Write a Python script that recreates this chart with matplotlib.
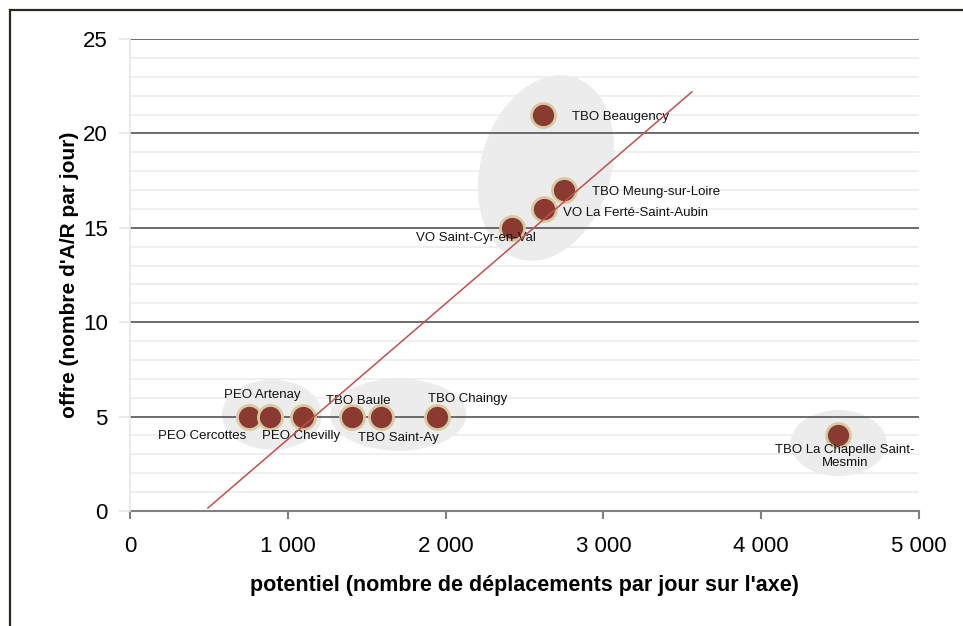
import matplotlib
matplotlib.use("Agg")
import matplotlib.pyplot as plt
from matplotlib.patches import Ellipse
from matplotlib.lines import Line2D
from matplotlib.transforms import ScaledTranslation
from matplotlib.ticker import FuncFormatter, MultipleLocator

plt.rcParams['font.family'] = ['Liberation Sans', 'DejaVu Sans']

# stations: potentiel (depl./jour), offre (A/R par jour)
names = ["PEO Cercottes", "PEO Artenay", "PEO Chevilly", "TBO Baule", "TBO Saint-Ay",
         "TBO Chaingy", "VO Saint-Cyr-en-Val", "VO La Ferté-Saint-Aubin",
         "TBO Meung-sur-Loire", "TBO Beaugency", "TBO La Chapelle Saint-\nMesmin"]
potentiel = [755, 887, 1096, 1407, 1591, 1945, 2421, 2624, 2750, 2617, 4487]
offre = [5, 5, 5, 5, 5, 5, 15, 16, 17, 21, 4]

# label placement: offset in pixels, horizontal alignment
lab_dx = [-3, -8, -2, 6, 17, 31, -36, 19, 28, 29, 7]
lab_dy = [-19, 22, -19, 16, -21, 18, -10, -4, -2, -2, -21]
lab_ha = ["right", "center", "center", "center", "center", "center", "center",
          "left", "left", "left", "center"]

# trend line
trend_x = [494, 3561]
trend_y = [0.16, 22.2]

# grey groups: centre (data), width/height in px, angle
grp_x = [900, 1700, 2636, 4490]
grp_y = [5.1, 5.1, 18.17, 3.6]
grp_w = [100, 136, 130, 96]
grp_h = [70, 72, 190, 66]
grp_a = [0, 0, -17, 0]

fig = plt.figure(figsize=(9.63, 6.26), dpi=100)
ax = fig.add_axes([130 / 963, 1 - 511 / 626, (919 - 130) / 963, (511 - 39) / 626])

ax.set_xlim(0, 5000)
ax.set_ylim(0, 25)
ax.set_axisbelow(True)

ax.yaxis.set_major_locator(MultipleLocator(5))
ax.yaxis.set_minor_locator(MultipleLocator(1))
ax.xaxis.set_major_locator(MultipleLocator(1000))
ax.grid(which='minor', axis='y', color='#ececec', lw=1.2, zorder=0.5)
ax.tick_params(axis='y', which='minor', length=0)

for cx, cy, w, h, a in zip(grp_x, grp_y, grp_w, grp_h, grp_a):
    tr = fig.dpi_scale_trans + ScaledTranslation(cx, cy, ax.transData)
    ax.add_patch(Ellipse((0, 0), w / 100, h / 100, angle=a, transform=tr,
                         facecolor='#ececec', edgecolor='none', zorder=1))

for v in ax.get_yticks()[1:]:
    ax.axhline(v, color='#606060', lw=1.3, zorder=1.5)

ax.scatter(potentiel, offre, s=300, facecolor='#8b3a32', edgecolor='#d6cba0',
           linewidths=2, zorder=3)
ax.plot(trend_x, trend_y, color='#c0504d', lw=1.1, zorder=4)

for n, x, y, dx, dy, ha in zip(names, potentiel, offre, lab_dx, lab_dy, lab_ha):
    ax.annotate(n, (x, y), xytext=(dx, dy), textcoords='offset pixels',
                ha=ha, va='center', fontsize=9.5, color='#111111', zorder=3.5,
                linespacing=1.2)

for s in ['top', 'right']:
    ax.spines[s].set_visible(False)
ax.spines['left'].set_color('#e6e6e6')
ax.spines['left'].set_linewidth(1.2)
ax.spines['bottom'].set_color('#808080')
ax.spines['bottom'].set_linewidth(1.5)
ax.spines['bottom'].set_zorder(2)

ax.xaxis.set_major_formatter(FuncFormatter(lambda v, p: f"{int(v):,}".replace(",", " ")))
ax.tick_params(axis='x', which='major', length=6, width=1.5, color='#808080',
               labelsize=16, pad=12)
ax.tick_params(axis='y', which='major', length=8, width=1.2, color='#e6e6e6',
               labelsize=16, pad=8)

ax.set_xlabel("potentiel (nombre de déplacements par jour sur l'axe)",
              fontsize=15.5, fontweight='bold', labelpad=13)
ax.set_ylabel("offre (nombre d'A/R par jour)", fontsize=15, fontweight='bold',
              labelpad=3)

# frame (left and top only)
fig.add_artist(Line2D([10 / 963, 10 / 963], [0, 1 - 10 / 626], color='#2a2a20', lw=1.6))
fig.add_artist(Line2D([10 / 963, 1], [1 - 10 / 626, 1 - 10 / 626], color='#2a2a20', lw=1.6))

fig.savefig("out.png", dpi=100)
